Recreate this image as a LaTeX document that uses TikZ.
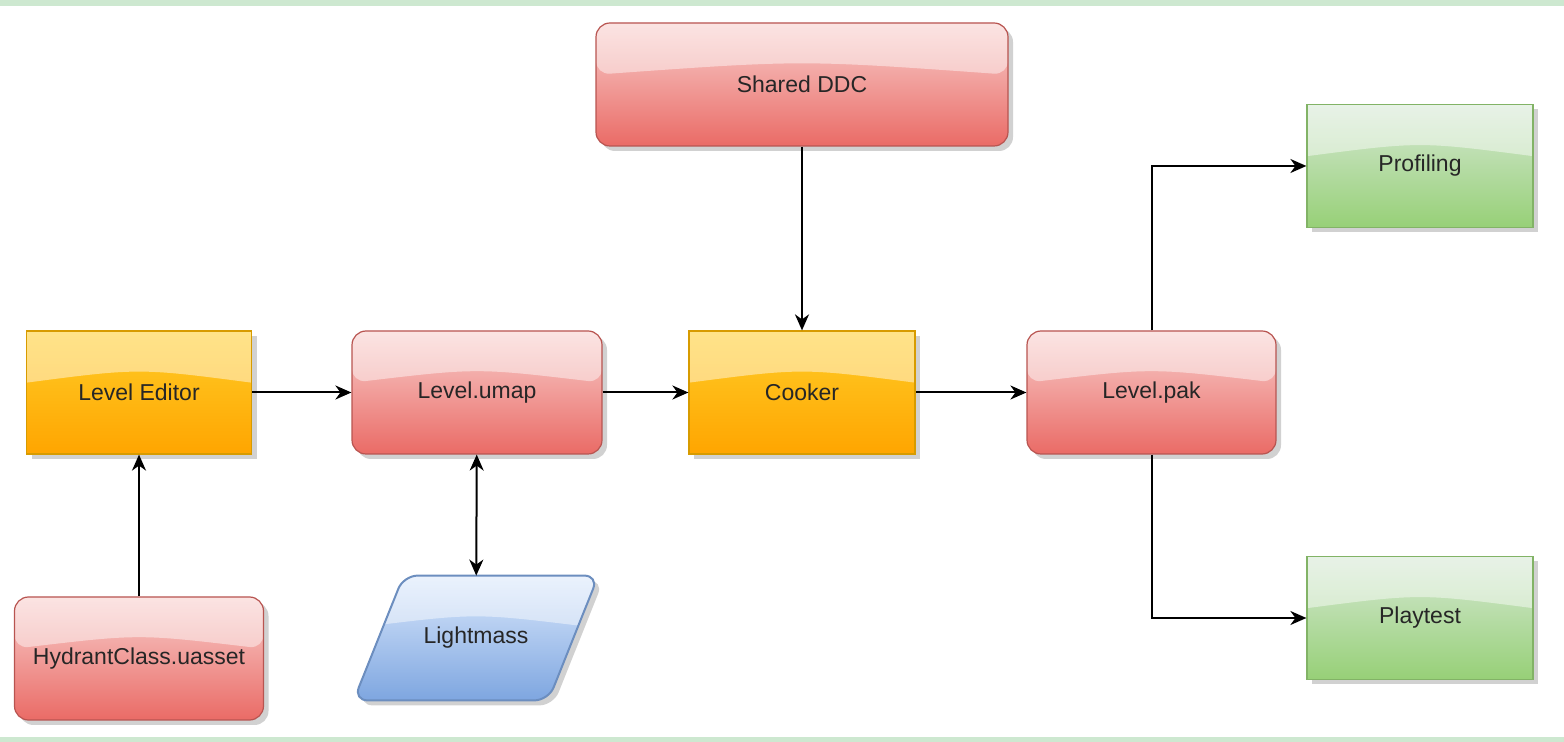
\documentclass[tikz,border=0pt]{standalone}
\usepackage{fontspec}
\setmainfont{Liberation Sans}
\usetikzlibrary{arrows.meta,shadows,calc,backgrounds}

\definecolor{redtop}{HTML}{F8CECC}
\definecolor{redbot}{HTML}{EA6B66}
\definecolor{redline}{HTML}{B85450}
\definecolor{orangetop}{HTML}{FFCD28}
\definecolor{orangebot}{HTML}{FFA500}
\definecolor{orangeline}{HTML}{D79B00}
\definecolor{greentop}{HTML}{D5E8D4}
\definecolor{greenbot}{HTML}{97D077}
\definecolor{greenline}{HTML}{82B366}
\definecolor{bluetop}{HTML}{DAE8FC}
\definecolor{bluebot}{HTML}{7EA6E0}
\definecolor{blueline}{HTML}{6C8EBF}
\definecolor{band}{HTML}{CDE8D0}

\begin{document}
\begin{tikzpicture}[x=0.5pt, y=-0.5pt]
    \tikzstyle{glass} = [path picture={
        \fill[white, fill opacity=0.45] (path picture bounding box.north west) -- (path picture bounding box.north east)
            -- ($(path picture bounding box.north east)!0.42!(path picture bounding box.south east)$)
            .. controls ($(path picture bounding box.north)!0.30!(path picture bounding box.south)$)
            .. ($(path picture bounding box.north west)!0.42!(path picture bounding box.south west)$) -- cycle;}]
    \tikzstyle{box} = [inner sep=0pt, minimum height=61.5pt, line width=0.6pt, text=black!85,
        font=\fontsize{11.5}{14}\selectfont, glass,
        drop shadow={shadow xshift=2.5pt, shadow yshift=-2.5pt, fill=black!18, opacity=1}]
    \tikzstyle{redbox} = [box, draw=redline, top color=redtop, bottom color=redbot, rounded corners=7pt]
    \tikzstyle{orangebox} = [box, draw=orangeline, top color=orangetop, bottom color=orangebot]
    \tikzstyle{greenbox} = [box, draw=greenline, top color=greentop, bottom color=greenbot]
    \tikzstyle{arrow} = [line width=1pt, ->, >={Stealth[length=8pt, width=7pt, inset=2.5pt]}]

    % Green bands
    \fill[band] (0,0) rectangle (1564,6);
    \fill[band] (0,737) rectangle (1564,742);
    \useasboundingbox (0,0) rectangle (1564,742);

    % Top box
    \node [redbox, minimum width=206pt] (SharedDDC) at (802,84.5) {Shared DDC};

    % Middle row
    \node [orangebox, minimum width=112.5pt] (LevelEditor) at (139,392.5) {Level Editor};
    \node [redbox, minimum width=125pt] (LevelUmap) at (477,392.5) {Level.umap};
    \node [orangebox, minimum width=113pt] (Cooker) at (802,392.5) {Cooker};
    \node [redbox, minimum width=124.5pt] (LevelPak) at (1151.5,392.5) {Level.pak};
    \draw [arrow] (LevelEditor) -- (LevelUmap);
    \draw [arrow] (LevelUmap) -- (Cooker);
    \draw [arrow] (Cooker) -- (LevelPak);
    \draw [arrow] (SharedDDC) -- (Cooker);

    % Right boxes
    \node [greenbox, minimum width=113pt] (Profiling) at (1420,166) {Profiling};
    \node [greenbox, minimum width=113pt] (Playtest) at (1420,618) {Playtest};
    \draw [arrow] (LevelPak.north) |- (Profiling.west);
    \draw [arrow] (LevelPak.south) |- (Playtest.west);

    % Bottom left
    \node [redbox, minimum width=124.5pt] (Hydrant) at (139,658.5) {HydrantClass.uasset};
    \draw [arrow] (Hydrant) -- (LevelEditor);

    % Parallelogram
    \node [inner sep=0pt, minimum width=122pt, minimum height=62pt, text=black!85,
        font=\fontsize{11.5}{14}\selectfont] (Lightmass) at (476,638) {Lightmass};
    \begin{scope}[on background layer]
        \draw [box, draw=blueline, top color=bluetop, bottom color=bluebot, rounded corners=7pt, line width=1pt]
            (Lightmass.south west) -- ([xshift=25pt]Lightmass.north west) -- (Lightmass.north east)
            -- ([xshift=-25pt]Lightmass.south east) -- cycle;
    \end{scope}
    \draw [arrow, <->] (LevelUmap) -- (Lightmass);
\end{tikzpicture}
\end{document}
